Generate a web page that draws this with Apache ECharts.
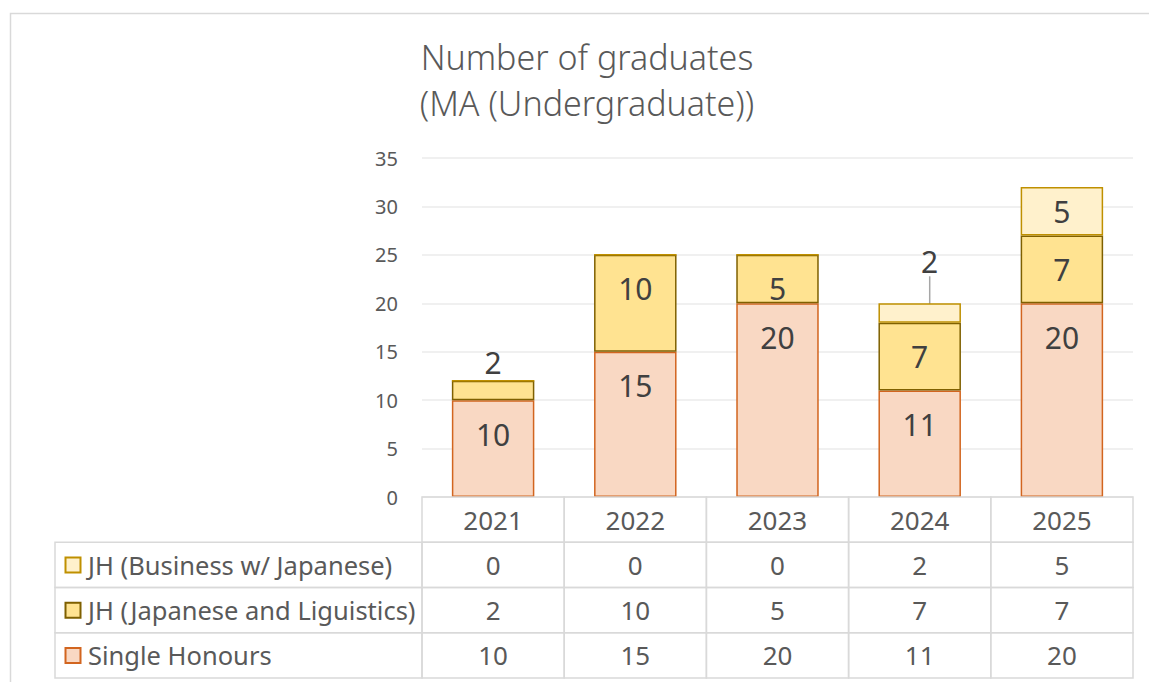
<!DOCTYPE html>
<html>
<head>
<meta charset="utf-8">
<script src="https://cdn.jsdelivr.net/npm/echarts@6/dist/echarts.min.js"></script>
<style>
html,body{margin:0;padding:0;background:#fff;}
#chart{width:1149px;height:682px;}
</style>
</head>
<body>
<div id="chart"></div>
<script>
// ---- data ----
const categories = ['2021', '2022', '2023', '2024', '2025'];
const seriesNames = ['JH (Business w/ Japanese)', 'JH (Japanese and Liguistics)', 'Single Honours'];
const businessJapanese = [0, 0, 0, 2, 5];
const japaneseLinguistics = [2, 10, 5, 7, 7];
const singleHonours = [10, 15, 20, 11, 20];
const yTicks = [0, 5, 10, 15, 20, 25, 30, 35];

// ---- styles ----
const FONT = '"Noto Sans", "Open Sans", sans-serif';
const styles = {
  'Single Honours': { fill: '#F9D8C3', stroke: '#D2651F' },
  'JH (Japanese and Liguistics)': { fill: '#FFE391', stroke: '#7F6000' },
  'JH (Business w/ Japanese)': { fill: '#FFF1CC', stroke: '#BF9000' }
};
const tableRows = [businessJapanese, japaneseLinguistics, singleHonours];
const ROW_H = 45.25;
const TABLE_LEFT = 55;
const LINE = '#D9D9D9';

function labelFmt(p) { return p.value === 0 ? '' : String(p.value); }

function barSeries(name, values, mainPos) {
  const st = styles[name];
  return {
    name: name,
    type: 'bar',
    stack: 'total',
    barWidth: '58%',
    data: values.map(v => ({
      value: v,
      label: v > 0 && v <= 2 ? { position: 'top', distance: 3 } : undefined
    })),
    itemStyle: { color: st.fill, borderColor: st.stroke, borderWidth: 1.5 },
    label: {
      show: true, position: mainPos, distance: 19, formatter: labelFmt,
      fontSize: 30, lineHeight: 30, color: '#404040', fontFamily: FONT
    },
    emphasis: { disabled: true }
  };
}

const chart = echarts.init(document.getElementById('chart'), null, { renderer: 'svg' });

const business = barSeries('JH (Business w/ Japanese)', businessJapanese, 'inside');
business.labelLine = { show: true, lineStyle: { color: '#A6A6A6', width: 1.5 } };
business.labelLayout = function (p) {
  const v = businessJapanese[p.dataIndex];
  if (v > 0 && v <= 2) return { dx: 10, dy: -24 };
  return {};
};

const option = {
  backgroundColor: '#fff',
  animation: false,
  title: {
    text: 'Number of graduates\n(MA (Undergraduate))',
    left: 582, top: 29, textAlign: 'center',
    textStyle: { fontSize: 34, lineHeight: 46, fontWeight: 300, color: '#595959', fontFamily: FONT }
  },
  grid: { left: 422, right: 16, top: 158, bottom: 185, containLabel: false },
  xAxis: {
    type: 'category', data: categories,
    axisLine: { show: false }, axisTick: { show: false },
    axisLabel: { show: true, fontSize: 26, lineHeight: 30, margin: 8, color: '#595959', fontFamily: FONT }
  },
  yAxis: {
    type: 'value', min: yTicks[0], max: yTicks[yTicks.length - 1], interval: yTicks[1] - yTicks[0],
    axisLine: { show: false }, axisTick: { show: false },
    axisLabel: { fontSize: 20, color: '#595959', margin: 24, fontFamily: FONT },
    splitLine: { lineStyle: { color: '#EBEBEB', width: 1.5 } }
  },
  graphic: [
    { type: 'rect', shape: { x: 10.5, y: 13.5, width: 1300, height: 800 },
      style: { fill: 'none', stroke: '#D9D9D9', lineWidth: 1.5 }, silent: true, z: -10 }
  ],
  series: [
    barSeries('Single Honours', singleHonours, 'insideTop'),
    barSeries('JH (Japanese and Liguistics)', japaneseLinguistics, 'insideTop'),
    business,
    {
      type: 'custom',
      silent: true,
      clip: false,
      z: 5,
      data: categories.map((c, i) => [i, 0]),
      encode: { x: 0, y: 1 },
      renderItem: function (params, api) {
        const i = api.value(0);
        const pt = api.coord([i, 0]);
        const bw = api.size([1, 0])[0];
        const x0 = pt[0] - bw / 2;
        const y0 = pt[1];
        const children = [];
        for (let r = 0; r < 4; r++) {
          children.push({ type: 'rect', shape: { x: x0, y: y0 + r * ROW_H, width: bw, height: ROW_H },
            style: { fill: 'none', stroke: LINE, lineWidth: 1.5 } });
        }
        for (let r = 0; r < 3; r++) {
          children.push({ type: 'text', style: {
            text: String(tableRows[r][i]), x: pt[0], y: y0 + (r + 1.5) * ROW_H,
            align: 'center', verticalAlign: 'middle', fontSize: 26, fill: '#595959', fontFamily: FONT } });
        }
        if (i === 0) {
          for (let r = 0; r < 3; r++) {
            const ry = y0 + (r + 1) * ROW_H;
            const st = styles[seriesNames[r]];
            children.push({ type: 'rect', shape: { x: TABLE_LEFT, y: ry, width: x0 - TABLE_LEFT, height: ROW_H },
              style: { fill: 'none', stroke: LINE, lineWidth: 1.5 } });
            children.push({ type: 'rect', shape: { x: 65.5, y: ry + ROW_H / 2 - 7.5, width: 15, height: 15 },
              style: { fill: st.fill, stroke: st.stroke, lineWidth: 2 } });
            children.push({ type: 'text', style: {
              text: seriesNames[r], x: 88, y: ry + ROW_H / 2, align: 'left', verticalAlign: 'middle',
              fontSize: 25.5, fill: '#595959', fontFamily: FONT } });
          }
        }
        return { type: 'group', children: children };
      }
    }
  ]
};
chart.setOption(option);
</script>
</body>
</html>
